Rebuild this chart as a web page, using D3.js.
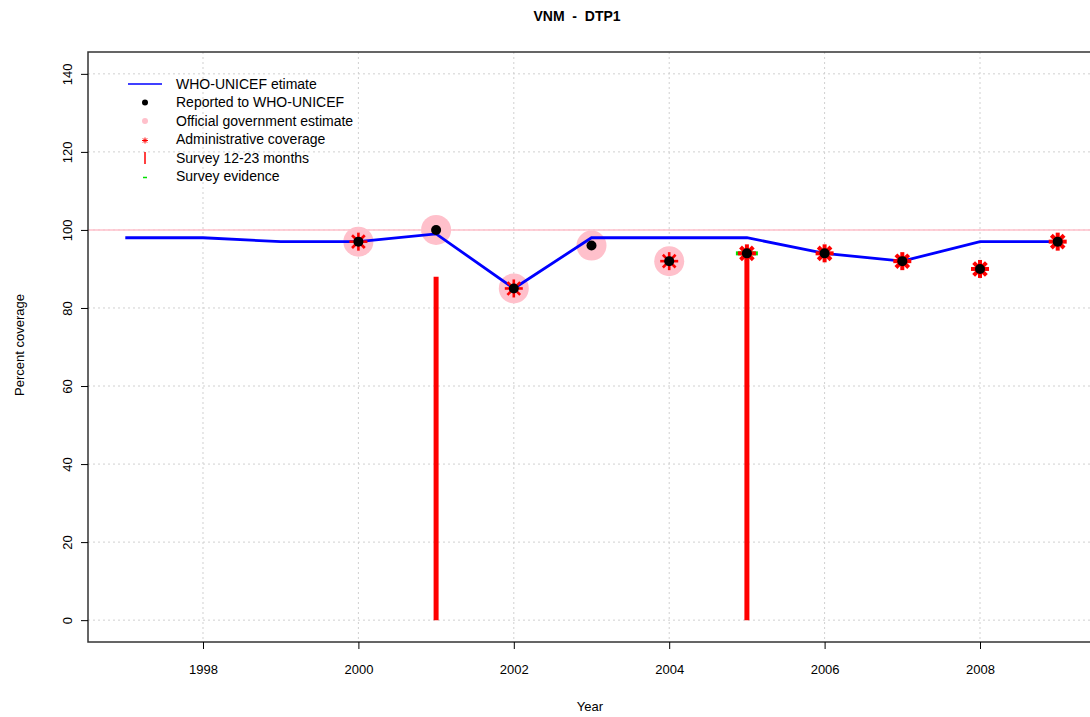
<!DOCTYPE html>
<html>
<head>
<meta charset="utf-8">
<script src="https://cdn.jsdelivr.net/npm/d3@7"></script>
<style>
  body { margin: 0; background: #fff; }
  text { font-family: "Liberation Sans", Arial, sans-serif; }
</style>
</head>
<body>
<svg id="viz" width="1090" height="717"></svg>
<script>
const svg = d3.select("#viz");
const width = +svg.attr("width");
const height = +svg.attr("height");

// data
const years = [1997, 1998, 1999, 2000, 2001, 2002, 2003, 2004, 2005, 2006, 2007, 2008, 2009];
const whoUnicef = [98, 98, 97, 97, 99, 85, 98, 98, 98, 94, 92, 97, 97];
const reportedYears = [2000, 2001, 2002, 2003, 2004, 2005, 2006, 2007, 2008, 2009];
const reported = [97, 100, 85, 96, 92, 94, 94, 92, 90, 97];
const govYears = [2000, 2001, 2002, 2003, 2004];
const govEstimate = [97, 100, 85, 96, 92];
const adminYears = [2000, 2002, 2004, 2005, 2006, 2007, 2008, 2009];
const adminCoverage = [97, 85, 92, 94, 94, 92, 90, 97];
const surveyYears = [2001, 2005];
const survey1223 = [88, 94];
const evidenceYears = [2005];
const surveyEvidence = [94];
const xTicks = [1998, 2000, 2002, 2004, 2006, 2008];
const yTicks = [0, 20, 40, 60, 80, 100, 120, 140];
const legendLabels = ["WHO-UNICEF etimate", "Reported to WHO-UNICEF", "Official government estimate",
  "Administrative coverage", "Survey 12-23 months", "Survey evidence"];

const plot = { left: 88, top: 52, right: 1095, bottom: 642 };

// R style 4% padding on both axes
const x = d3.scaleLinear().domain([1996.52, 2009.48]).range([plot.left, plot.right]);
const y = d3.scaleLinear().domain([-5.6, 145.6]).range([plot.bottom, plot.top]);

svg.append("defs").append("clipPath").attr("id", "clip")
  .append("rect")
  .attr("x", plot.left).attr("y", plot.top)
  .attr("width", plot.right - plot.left).attr("height", plot.bottom - plot.top);

// grid
const grid = svg.append("g").attr("stroke", "#d0d0d0").attr("stroke-dasharray", "2,3").attr("stroke-width", 1);
xTicks.forEach(t => {
  grid.append("line").attr("x1", x(t)).attr("x2", x(t)).attr("y1", plot.top).attr("y2", plot.bottom);
});
yTicks.forEach(t => {
  grid.append("line").attr("x1", plot.left).attr("x2", plot.right).attr("y1", y(t)).attr("y2", y(t));
});

const g = svg.append("g").attr("clip-path", "url(#clip)");

// reference line at 100
g.append("line")
  .attr("x1", plot.left).attr("x2", plot.right)
  .attr("y1", y(100)).attr("y2", y(100))
  .attr("stroke", "#ffc0cb").attr("stroke-width", 1.5);

// official government estimate
g.selectAll(".gov")
  .data(govYears.map((d, i) => ({ year: d, value: govEstimate[i] })))
  .join("circle")
  .attr("cx", d => x(d.year)).attr("cy", d => y(d.value))
  .attr("r", 15).attr("fill", "#ffc0cb");

// survey 12-23 months
g.selectAll(".survey")
  .data(surveyYears.map((d, i) => ({ year: d, value: survey1223[i] })))
  .join("line")
  .attr("x1", d => x(d.year)).attr("x2", d => x(d.year))
  .attr("y1", y(0)).attr("y2", d => y(d.value))
  .attr("stroke", "#ff0000").attr("stroke-width", 5);

// survey evidence
g.selectAll(".evidence")
  .data(evidenceYears.map((d, i) => ({ year: d, value: surveyEvidence[i] })))
  .join("line")
  .attr("x1", d => x(d.year) - 11).attr("x2", d => x(d.year) + 11)
  .attr("y1", d => y(d.value)).attr("y2", d => y(d.value))
  .attr("stroke", "#00e000").attr("stroke-width", 4);

// WHO-UNICEF line
const line = d3.line().x(d => x(d.year)).y(d => y(d.value));
g.append("path")
  .datum(years.map((d, i) => ({ year: d, value: whoUnicef[i] })))
  .attr("fill", "none")
  .attr("stroke", "#0000ff")
  .attr("stroke-width", 2.8)
  .attr("d", line);

// administrative coverage (asterisk)
function star(sel, r, sw) {
  const a = r * Math.SQRT1_2;
  [[0, -r, 0, r], [-r, 0, r, 0], [-a, -a, a, a], [-a, a, a, -a]].forEach(s => {
    sel.append("line")
      .attr("x1", s[0]).attr("y1", s[1]).attr("x2", s[2]).attr("y2", s[3])
      .attr("stroke", "#ff0000").attr("stroke-width", sw);
  });
}
adminYears.forEach((yr, i) => {
  const s = g.append("g").attr("transform", `translate(${x(yr)},${y(adminCoverage[i])})`);
  star(s, 9, govYears.includes(yr) ? 2.6 : 4);
});

// reported
g.selectAll(".rep")
  .data(reportedYears.map((d, i) => ({ year: d, value: reported[i] })))
  .join("circle")
  .attr("cx", d => x(d.year)).attr("cy", d => y(d.value))
  .attr("r", 5).attr("fill", "#000");

// box
svg.append("rect")
  .attr("x", plot.left).attr("y", plot.top)
  .attr("width", plot.right - plot.left).attr("height", plot.bottom - plot.top)
  .attr("fill", "none").attr("stroke", "#333").attr("stroke-width", 1.5);

// axes
const xAxis = svg.append("g")
  .attr("transform", `translate(0,${plot.bottom})`)
  .call(d3.axisBottom(x).tickValues(xTicks).tickFormat(d3.format("d")).tickSize(7).tickPadding(16));
xAxis.select(".domain").remove();
xAxis.selectAll("text").attr("font-size", 13).attr("fill", "#000").style("font-family", "Liberation Sans, Arial, sans-serif");

const yAxis = svg.append("g")
  .attr("transform", `translate(${plot.left},0)`)
  .call(d3.axisLeft(y).tickValues(yTicks).tickSize(7).tickFormat(d => d));
yAxis.select(".domain").remove();
yAxis.selectAll("text")
  .attr("font-size", 13).attr("fill", "#000")
  .style("font-family", "Liberation Sans, Arial, sans-serif")
  .attr("x", null).attr("dy", null)
  .attr("text-anchor", "middle")
  .attr("transform", "translate(-21,0) rotate(-90)")
  .attr("y", 0).attr("dy", "0.35em");

// titles
svg.append("text")
  .attr("x", 577).attr("y", 21)
  .attr("text-anchor", "middle")
  .attr("font-size", 14).attr("font-weight", "bold")
  .style("white-space", "pre")
  .text("VNM  -  DTP1");

svg.append("text")
  .attr("x", 590).attr("y", 711)
  .attr("text-anchor", "middle")
  .attr("font-size", 13)
  .text("Year");

svg.append("text")
  .attr("transform", "translate(24,345) rotate(-90)")
  .attr("text-anchor", "middle")
  .attr("font-size", 13)
  .text("Percent coverage");

// legend
const legend = svg.append("g").attr("transform", "translate(0,84)");
legendLabels.forEach((label, i) => {
  const row = legend.append("g").attr("transform", `translate(0,${i * 18.5})`);
  if (i === 0) {
    row.append("line").attr("x1", 128).attr("x2", 162).attr("y1", 0).attr("y2", 0)
      .attr("stroke", "#0000ff").attr("stroke-width", 1.5);
  } else if (i === 1) {
    row.append("circle").attr("cx", 145).attr("cy", 0).attr("r", 3).attr("fill", "#000");
  } else if (i === 2) {
    row.append("circle").attr("cx", 145).attr("cy", 0).attr("r", 3).attr("fill", "#ffc0cb");
  } else if (i === 3) {
    const s = row.append("g").attr("transform", "translate(145,1)");
    star(s, 3, 1);
  } else if (i === 4) {
    row.append("line").attr("x1", 145).attr("x2", 145).attr("y1", -6).attr("y2", 6)
      .attr("stroke", "#ff0000").attr("stroke-width", 1.5);
  } else {
    row.append("line").attr("x1", 143).attr("x2", 147).attr("y1", 1).attr("y2", 1)
      .attr("stroke", "#00e000").attr("stroke-width", 1.5);
  }
  row.append("text")
    .attr("x", 176).attr("y", 0).attr("dy", "0.35em")
    .attr("font-size", 14)
    .text(label);
});
</script>
</body>
</html>
